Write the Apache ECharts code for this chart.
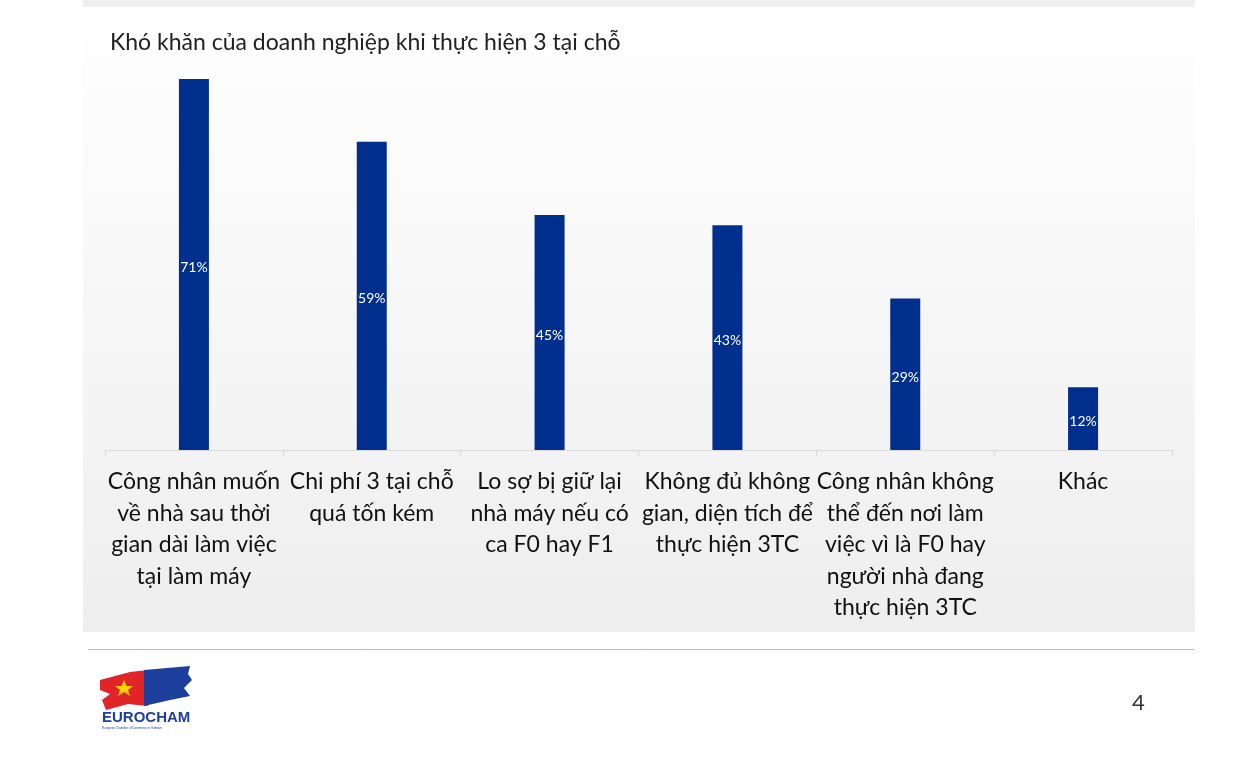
<!DOCTYPE html>
<html><head><meta charset="utf-8">
<script src="https://cdn.jsdelivr.net/npm/echarts@6/dist/echarts.min.js"></script>
<style>html,body{margin:0;padding:0;background:#fff}#c{width:1239px;height:772px}</style>
</head><body><div id="c"></div>
<script>
const categories = [
  "Công nhân muốn\nvề nhà sau thời\ngian dài làm việc\ntại làm máy",
  "Chi phí 3 tại chỗ\nquá tốn kém",
  "Lo sợ bị giữ lại\nnhà máy nếu có\nca F0 hay F1",
  "Không đủ không\ngian, diện tích để\nthực hiện 3TC",
  "Công nhân không\nthể đến nơi làm\nviệc vì là F0 hay\nngười nhà đang\nthực hiện 3TC",
  "Khác"
];
const values = [71, 59, 45, 43, 29, 12];
const title = "Khó khăn của doanh nghiệp khi thực hiện 3 tại chỗ";
const pageNumber = "4";

const chart = echarts.init(document.getElementById('c'), null, {renderer:'canvas'});
const FONT = 'Lato, "Noto Sans", sans-serif';
chart.setOption({
  animation: false,
  backgroundColor: '#ffffff',
  graphic: [
    {type:'rect', z:-10, shape:{x:83,y:0,width:1112,height:7}, style:{fill:'#efefef'}},
    {type:'rect', z:-10, shape:{x:83,y:7,width:1112,height:625},
      style:{fill:new echarts.graphic.LinearGradient(0,0,0,1,[{offset:0,color:'#ffffff'},{offset:1,color:'#eeeeee'}])}},
    {type:'line', shape:{x1:88,y1:649.5,x2:1195,y2:649.5}, style:{stroke:'#bfbfbf',lineWidth:1}},
    {type:'text', left:1132, top:692, style:{text:pageNumber, fill:'#333', font:'22px '+FONT}},
    // logo approximation
    {type:'group', left:100, top:666, children:[
      {type:'polygon', shape:{points:[[0,14],[30,6],[48,4],[48,40],[28,38],[6,44],[2,34],[10,28],[0,24]]}, style:{fill:'#e02428'}},
      {type:'polygon', shape:{points:[[44,4],[90,0],[88,8],[92,14],[84,22],[90,30],[70,34],[44,40]]}, style:{fill:'#1d3f9c'}},
      {type:'polygon', shape:{points:[[24,14],[26.5,20],[33,20],[28,24],[30,30],[24,26],[18,30],[20,24],[15,20],[21.5,20]]}, style:{fill:'#ffd200'}},
      {type:'text', left:2, top:44, style:{text:'EUROCHAM', fill:'#1d3f9c', font:'bold 15px "Liberation Sans", sans-serif'}},
      {type:'text', left:2, top:61, style:{text:'European Chamber of Commerce in Vietnam', fill:'#1d3f9c', font:'3px sans-serif'}}
    ]}
  ],
  title: {
    text: title, left: 105, top: 26,
    textStyle: {fontFamily: FONT, fontSize: 23, fontWeight: 'normal', color: '#222'}
  },
  grid: {left:105, right:67, top:32, bottom:322, containLabel:false},
  xAxis: {
    type:'category', data: categories,
    axisLine:{show:true, lineStyle:{color:'#d9d9d9', width:1}},
    axisTick:{show:true, alignWithLabel:false, length:6, lineStyle:{color:'#d9d9d9'}},
    axisLabel:{interval:0, margin:16, color:'#111', fontFamily:FONT, fontSize:23, lineHeight:31.5, align:'center'}
  },
  yAxis: {type:'value', min:0, max:80, show:false, splitLine:{show:false}},
  series: [{
    type:'bar', data: values, barWidth:30,
    itemStyle:{color:'#002f8e'},
    label:{show:true, position:'inside', offset:[0,3], formatter:'{c}%', color:'#fff', fontFamily:FONT, fontSize:14}
  }]
});
</script></body></html>
